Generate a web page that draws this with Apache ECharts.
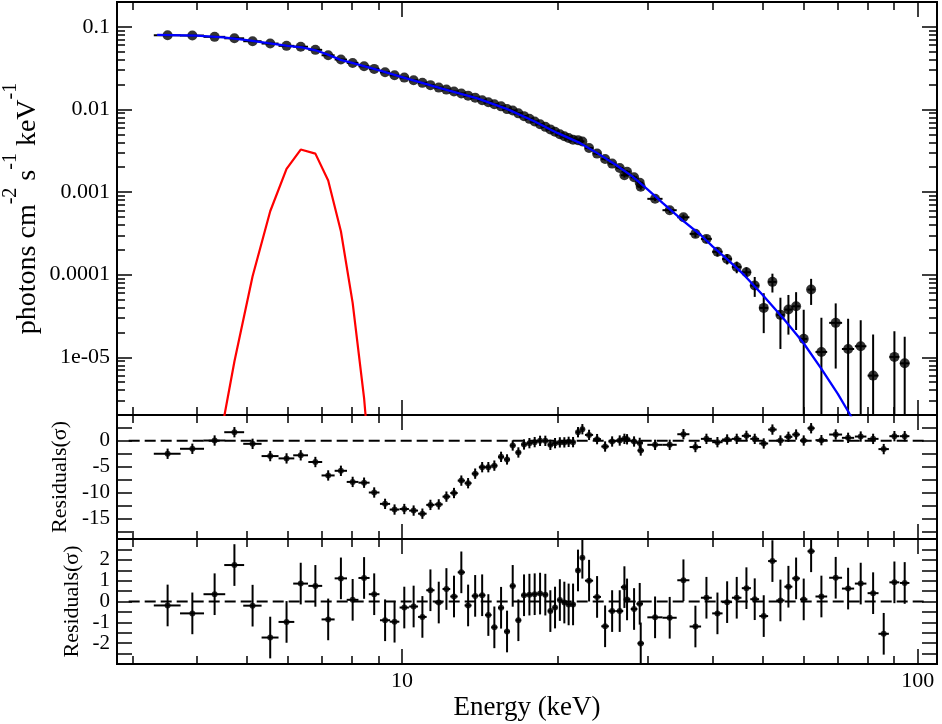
<!DOCTYPE html>
<html><head><meta charset="utf-8">
<script src="https://cdn.jsdelivr.net/npm/echarts@6/dist/echarts.min.js"></script>
<style>html,body{margin:0;padding:0;background:#fff}#c{width:942px;height:724px}</style>
</head><body><div id="c"></div>
<script>
// ---------------- data ----------------
const energy = [3.51,3.92,4.33,4.73,5.13,5.55,5.97,6.36,6.79,7.19,
 7.61,8.02,8.44,8.83,9.27,9.67,10.10,10.53,10.95,11.35,
 11.78,12.19,12.61,13.03,13.43,13.86,14.30,14.70,15.10,15.56,
 15.98,16.39,16.81,17.24,17.66,18.08,18.52,18.96,19.39,19.80,
 20.23,20.64,21.04,21.46,21.94,22.37,23.05,23.89,24.76,25.55,
 26.43,26.99,27.31,28.18,28.90,29.03,30.95,33.04,35.13,37.06,
 38.93,40.89,42.70,44.57,46.54,48.30,50.28,52.27,54.17,56.14,
 58.10,60.11,62.13,65.05,69.34,73.29,77.53,81.95,85.92,90.12,94.36];
const energyHalfWidth = [0.21,0.21,0.21,0.21,0.21,0.21,0.21,0.21,0.21,0.21,
 0.21,0.21,0.21,0.21,0.21,0.21,0.21,0.21,0.21,0.21,
 0.21,0.21,0.21,0.21,0.21,0.21,0.21,0.21,0.21,0.21,
 0.21,0.21,0.21,0.21,0.21,0.21,0.21,0.21,0.21,0.21,
 0.21,0.21,0.21,0.21,0.21,0.21,0.42,0.42,0.42,0.42,
 0.42,0.42,0.42,0.42,0.42,0.42,1.05,1.05,0.95,0.95,
 0.95,0.95,0.95,0.95,0.95,0.95,1.0,1.0,1.0,1.0,
 1.0,1.0,1.0,1.7,2.0,2.0,2.0,2.0,2.0,2.0,2.0];
const flux = [0.0791,0.0785,0.0757,0.0727,0.0670,0.0628,0.0589,0.0575,0.0527,0.0453,
 0.0402,0.0366,0.0333,0.0310,0.0282,0.0259,0.0243,0.0226,0.0210,0.0197,
 0.0184,0.0174,0.0165,0.0156,0.0147,0.0139,0.0129,0.0122,0.01156,0.0109,
 0.0101,0.0097,0.00897,0.00830,0.00770,0.00714,0.00662,0.00616,0.00574,0.00537,
 0.00502,0.00475,0.00452,0.00429,0.00425,0.00410,0.00341,0.00292,0.00251,0.00221,
 0.00196,0.00160,0.00176,0.00151,0.00130,0.00116,8.28e-4,6.03e-4,4.95e-4,3.12e-4,
 2.71e-4,1.89e-4,1.55e-4,1.24e-4,1.07e-4,7.38e-5,3.96e-5,8.18e-5,3.26e-5,3.78e-5,
 4.14e-5,1.67e-5,6.6e-5,1.16e-5,2.61e-5,1.26e-5,1.36e-5,6.0e-6,null,1.01e-5,8.45e-6];
const fluxErr = [0.0015,0.0013,0.0012,0.0011,0.0010,0.0009,0.0009,0.0008,0.0008,0.0007,
 0.0006,0.0006,0.0005,0.0005,0.0005,0.0004,0.0004,0.0004,0.0004,0.0004,
 0.0004,0.0003,0.0003,0.0003,0.0003,0.0003,0.0003,0.0003,0.0003,0.0003,
 0.0003,0.0003,0.00025,0.00024,0.00023,0.00022,0.00021,0.0002,0.0002,0.00019,
 0.00018,0.00018,0.00017,0.00017,0.00016,0.00016,0.00012,0.00011,0.0001,0.00009,
 0.00009,0.0001,0.00008,0.00008,0.00007,0.00009,5e-5,4.5e-5,4e-5,3e-5,
 2.8e-5,2.3e-5,2.2e-5,2e-5,1.6e-5,2e-5,2e-5,2.1e-5,2e-5,1.9e-5,
 2e-5,2.1e-5,2.3e-5,1.84e-5,1.88e-5,1.66e-5,1.44e-5,1.28e-5,null,1.06e-5,9.3e-6];
// residuals (sigma) of the continuum-only fit (middle panel)
const residContinuum = [-2.5,-1.54,0.06,1.67,-0.58,-2.95,-3.4,-2.8,-4.1,-6.7,
 -5.8,-7.95,-8.1,-10.0,-12.2,-13.3,-13.2,-13.5,-14.1,-12.4,
 -12.3,-10.8,-10.1,-7.7,-8.2,-6.35,-5.1,-5.1,-4.8,-3.1,
 -3.6,-0.9,-2.25,-0.7,-0.45,-0.25,0,0,-0.77,-0.45,
 -0.3,-0.3,-0.2,-0.25,1.67,2.25,1.15,0.33,-1.1,-0.13,
 0.06,0.38,0.3,-0.13,-0.4,-1.87,-0.77,-0.77,1.28,-1.2,
 0.38,-0.26,0.26,0.38,0.96,0.38,-0.51,2.18,0.06,0.77,
 1.22,0.06,2.44,0.13,1.22,0.58,0.83,0.38,-1.6,0.9,0.9];
// residuals (sigma) of the full fit (bottom panel)
const residFull = [-0.19,-0.57,0.35,1.75,-0.2,-1.73,-0.98,0.86,0.75,-0.86,
 1.11,0.08,1.13,0.35,-0.9,-0.97,-0.29,-0.24,-0.74,0.54,
 -0.05,0.6,0.24,1.4,-0.19,0.27,0.3,-0.65,-1.24,-0.3,
 -1.44,0.75,-0.9,0.3,0.33,0.35,0.38,0.33,-0.46,-0.29,
 0.07,-0.05,-0.14,-0.14,1.49,2.1,1.0,0.22,-1.19,-0.46,
 -0.46,0.69,0.1,-0.36,-0.11,-2.01,-0.76,-0.78,1.02,-1.2,
 0.18,-0.57,-0.03,0.18,0.64,0.11,-0.7,1.94,0.05,0.71,
 1.11,0.1,2.41,0.24,1.14,0.62,0.86,0.4,-1.55,0.92,0.89];
const residErrSigma = 1; // residuals are in units of sigma
// total model (blue)
const modelEnergy = [3.35,4.0,4.5,5.0,5.5,6.0,6.4,6.8,7.2,7.6,8.0,9.0,10,12,14,16,18,20,22,24,26,28,30,32,35,38,40,43,46,50,55,60,65,70,74,78];
const modelFlux = [0.0800,0.0783,0.0745,0.0690,0.0635,0.0590,0.0566,0.0521,0.0458,0.0398,0.0366,0.0299,0.0247,0.0178,0.0136,0.0101,0.00725,0.0052,0.0040,0.00292,0.00213,0.00154,0.00106,0.00074,0.000455,0.0003,0.00022,0.000148,0.0001,5.7e-5,2.9e-5,1.5e-5,7.3e-6,3.6e-6,2.0e-6,1.1e-6];
// gaussian line component (red)
const lineEnergy = [4.33,4.73,5.13,5.55,5.97,6.36,6.79,7.19,7.61,8.02,8.44,8.83];
const lineFlux = [4.5e-7,8.9e-6,9.57e-5,5.86e-4,1.91e-3,3.27e-3,2.92e-3,1.38e-3,3.35e-4,4.56e-5,3.2e-6,1.2e-7];
const zeroLineEnergy = [2.95, 104];
// ticks / labels
const xMajorTicks = [10, 100];
const xMinorTicks = [3,4,5,6,7,8,9,20,30,40,50,60,70,80,90];
const xTickLabels = ['10', '100'];
const fluxMajorTicks = [1e-5, 1e-4, 1e-3, 1e-2, 1e-1];
const fluxTickLabels = ['1e-05', '0.0001', '0.001', '0.01', '0.1'];
const resContTicks = [-17.5,-15,-12.5,-10,-7.5,-5,-2.5,0,2.5];
const resContLabels = [-15,-10,-5,0];
const resFullTicks = [-2.5,-2,-1.5,-1,-0.5,0,0.5,1,1.5,2,2.5];
const resFullLabels = [-2,-1,0,1,2];

// ---------------- chart ----------------
const FONT = "'Liberation Serif','Times New Roman',serif";
const LX = Math.log10;
const X_MIN = 2.8, X_MAX = 109, F_MIN = 2e-6, F_MAX = 0.2;
const fluxMinorTicks = [];
for (let d = -6; d <= -1; d++) for (let m = 2; m <= 9; m++) {
  const v = m * Math.pow(10, d);
  if (v > F_MIN * 1.001 && v < F_MAX * 0.999) fluxMinorTicks.push(v);
}
const gridBase = {left:117, right:5, show:true, borderColor:'#000', borderWidth:2, backgroundColor:'transparent', containLabel:false, outerBoundsMode:'none'};
const grids = [
  Object.assign({top:2, height:413}, gridBase),
  Object.assign({top:415, height:124}, gridBase),
  Object.assign({top:539, height:125}, gridBase)
];
const tickStyle = {color:'#000', width:1.5};
function decoX(gi, pos, ticks, len, withLabels) {
  const ax = {
    type:'value', gridIndex:gi, position:pos, min:LX(X_MIN), max:LX(X_MAX),
    axisLine:{show:false, onZero:false},
    axisTick:{show:true, inside:true, length:len, customValues:ticks.map(LX), lineStyle:tickStyle},
    axisLabel:{show:false}, splitLine:{show:false}
  };
  if (withLabels) {
    ax.axisLabel = {show:true, customValues:xMajorTicks.map(LX), margin:6, color:'#000', fontFamily:FONT, fontSize:22,
      formatter: v => xTickLabels[xMajorTicks.map(LX).findIndex(t => Math.abs(t - v) < 1e-6)] || ''};
    ax.name = 'Energy (keV)'; ax.nameLocation = 'middle'; ax.nameGap = 30; ax.nameMoveOverlap = false;
    ax.nameTextStyle = {color:'#000', fontFamily:FONT, fontSize:27};
  }
  return ax;
}
const xAxes = [0,1,2].map(gi => ({type:'log', logBase:10, gridIndex:gi, min:X_MIN, max:X_MAX, show:false, axisLine:{onZero:false}}));
[0,1,2].forEach(gi => {
  xAxes.push(decoX(gi, 'bottom', xMajorTicks, 15, gi === 2));
  xAxes.push(decoX(gi, 'bottom', xMinorTicks, 8, false));
  xAxes.push(decoX(gi, 'top', xMajorTicks, 15, false));
  xAxes.push(decoX(gi, 'top', xMinorTicks, 8, false));
});
function decoFluxY(pos, ticks, len, withLabels) {
  const ax = {
    type:'value', gridIndex:0, position:pos, min:LX(F_MIN), max:LX(F_MAX),
    axisLine:{show:false, onZero:false},
    axisTick:{show:true, inside:true, length:len, customValues:ticks.map(LX), lineStyle:tickStyle},
    axisLabel:{show:false}, splitLine:{show:false}
  };
  if (withLabels) {
    ax.axisLabel = {show:true, customValues:fluxMajorTicks.map(LX), margin:7, color:'#000', fontFamily:FONT, fontSize:22,
      formatter: v => fluxTickLabels[fluxMajorTicks.map(LX).findIndex(t => Math.abs(t - v) < 1e-6)] || ''};
    ax.name = '{a|photons cm}{s|-2}{a| s}{s|-1}{a| keV}{s|-1}';
    ax.nameLocation = 'middle'; ax.nameRotate = 90; ax.nameGap = 75; ax.nameMoveOverlap = false;
    ax.nameTextStyle = {rich:{
      a:{fontFamily:FONT, fontSize:28, lineHeight:41, verticalAlign:'bottom', color:'#000'},
      s:{fontFamily:FONT, fontSize:20, lineHeight:41, verticalAlign:'top', color:'#000'}
    }};
  }
  return ax;
}
function resY(gi, pos, min, max, ticks, labels, nameGap) {
  const ax = {
    type:'value', gridIndex:gi, position:pos, min:min, max:max,
    axisLine:{show:false, onZero:false},
    axisTick:{show:true, inside:true, length:15, customValues:ticks, lineStyle:tickStyle},
    axisLabel:{show:false}, splitLine:{show:false}
  };
  if (labels) {
    ax.axisLabel = {show:true, customValues:labels, margin:7, color:'#000', fontFamily:FONT, fontSize:21};
    ax.name = 'Residuals(σ)'; ax.nameLocation = 'middle'; ax.nameRotate = 90; ax.nameGap = nameGap; ax.nameMoveOverlap = false;
    ax.nameTextStyle = {color:'#000', fontFamily:FONT, fontSize:22};
  }
  return ax;
}
const yAxes = [
  {type:'log', logBase:10, gridIndex:0, min:F_MIN, max:F_MAX, show:false, axisLine:{onZero:false}},   // 0
  resY(1, 'left', -19, 5, resContTicks, resContLabels, 46),                                              // 1
  resY(2, 'left', -3, 3, resFullTicks, resFullLabels, 34),                                               // 2
  decoFluxY('left', fluxMajorTicks, 15, true),                                                          // 3
  decoFluxY('left', fluxMinorTicks, 8, false),                                                          // 4
  decoFluxY('right', fluxMajorTicks, 15, false),                                                        // 5
  decoFluxY('right', fluxMinorTicks, 8, false),                                                         // 6
  resY(1, 'right', -19, 5, resContTicks, null, 0),                                                      // 7
  resY(2, 'right', -3, 3, resFullTicks, null, 0)                                                        // 8
];

function errRenderer(floor) {
  return function (params, api) {
    const e = api.value(0), v = api.value(1), dx = api.value(2), dy = api.value(3);
    let lo = v - dy;
    if (floor != null && lo < floor) lo = floor;
    const h1 = api.coord([e - dx, v]), h2 = api.coord([e + dx, v]);
    const v1 = api.coord([e, lo]), v2 = api.coord([e, v + dy]);
    const style = {stroke:'#000', lineWidth:2};
    return {type:'group', children:[
      {type:'line', shape:{x1:h1[0], y1:h1[1], x2:h2[0], y2:h2[1]}, style:style},
      {type:'line', shape:{x1:v1[0], y1:v1[1], x2:v2[0], y2:v2[1]}, style:style}
    ]};
  };
}

const topErrData = [], topPts = [], contErrData = [], contPts = [], fullErrData = [], fullPts = [];
energy.forEach((e, i) => {
  if (flux[i] != null) {
    topErrData.push([e, flux[i], energyHalfWidth[i], fluxErr[i]]);
    topPts.push([e, flux[i]]);
  }
  contErrData.push([e, residContinuum[i], energyHalfWidth[i], residErrSigma]);
  contPts.push([e, residContinuum[i]]);
  fullErrData.push([e, residFull[i], energyHalfWidth[i], residErrSigma]);
  fullPts.push([e, residFull[i]]);
});
const modelData = modelEnergy.map((e, i) => [e, modelFlux[i]]);
const lineData = lineEnergy.map((e, i) => [e, lineFlux[i]]);
const zeroData = zeroLineEnergy.map(e => [e, 0]);

const series = [
  {type:'custom', xAxisIndex:0, yAxisIndex:0, data:topErrData, renderItem:errRenderer(1e-8), clip:true, encode:{x:0, y:1}, z:2, silent:true},
  {type:'scatter', xAxisIndex:0, yAxisIndex:0, data:topPts, symbol:'circle', symbolSize:10, itemStyle:{color:'#000'}, z:3, silent:true},
  {type:'line', xAxisIndex:0, yAxisIndex:0, data:lineData, symbol:'none', clip:true, lineStyle:{color:'#ff0000', width:2.2}, z:4, silent:true},
  {type:'line', xAxisIndex:0, yAxisIndex:0, data:modelData, symbol:'none', clip:true, lineStyle:{color:'#0000ff', width:2.3}, z:5, silent:true},
  {type:'line', xAxisIndex:1, yAxisIndex:1, data:zeroData, symbol:'none', clip:true, lineStyle:{color:'#000', width:2, type:[11,5]}, z:2, silent:true},
  {type:'custom', xAxisIndex:1, yAxisIndex:1, data:contErrData, renderItem:errRenderer(null), clip:true, encode:{x:0, y:1}, z:3, silent:true},
  {type:'scatter', xAxisIndex:1, yAxisIndex:1, data:contPts, symbol:'circle', symbolSize:6, itemStyle:{color:'#000'}, z:4, silent:true},
  {type:'line', xAxisIndex:2, yAxisIndex:2, data:zeroData, symbol:'none', clip:true, lineStyle:{color:'#000', width:2, type:[11,5]}, z:2, silent:true},
  {type:'custom', xAxisIndex:2, yAxisIndex:2, data:fullErrData, renderItem:errRenderer(null), clip:true, encode:{x:0, y:1}, z:3, silent:true},
  {type:'scatter', xAxisIndex:2, yAxisIndex:2, data:fullPts, symbol:'circle', symbolSize:6, itemStyle:{color:'#000'}, z:4, silent:true}
];

const chart = echarts.init(document.getElementById('c'), null, {renderer:'canvas', width:942, height:724});
chart.setOption({
  animation:false,
  backgroundColor:'#fff',
  textStyle:{fontFamily:FONT},
  grid:grids,
  xAxis:xAxes,
  yAxis:yAxes,
  series:series
});
</script>
</body></html>
